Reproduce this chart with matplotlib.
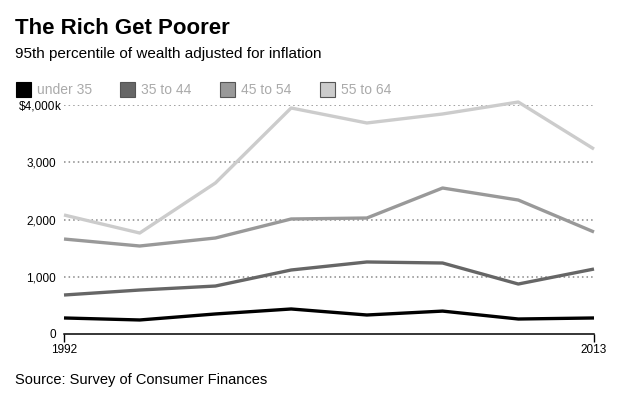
import matplotlib.pyplot as plt
from matplotlib.patches import Rectangle

plt.rcParams['font.family'] = ['Liberation Sans', 'DejaVu Sans']

years = [1992, 1995, 1998, 2001, 2004, 2007, 2010, 2013]
under_35 = [280, 245, 350, 437, 332, 400, 262, 280]
age_35_44 = [681, 768, 838, 1118, 1258, 1240, 873, 1135]
age_45_54 = [1659, 1537, 1677, 2009, 2026, 2550, 2340, 1782]
age_55_64 = [2079, 1764, 2638, 3948, 3686, 3843, 4052, 3231]

labels = ['under 35', '35 to 44', '45 to 54', '55 to 64']
colors = ['#000000', '#666666', '#999999', '#cccccc']
series = [under_35, age_35_44, age_45_54, age_55_64]

yticks = [0, 1000, 2000, 3000, 4000]
ytick_labels = ['0', '1,000', '2,000', '3,000', '$4,000']

fig = plt.figure(figsize=(6.3, 4.0), dpi=100)
ax = fig.add_axes([64 / 630, 1 - 334 / 400, 530 / 630, 229 / 400])

for y in yticks[1:]:
    ax.axhline(y, color='#888888', lw=1.1, ls=(0, (1, 2)), zorder=1)

# draw lightest on bottom so darker lines sit on top
for vals, c in reversed(list(zip(series, colors))):
    ax.plot(years, vals, color=c, lw=2.4, zorder=3, clip_on=False,
            solid_capstyle='butt')

ax.set_xlim(1992, 2013)
ax.set_ylim(0, 4000)
ax.set_yticks(yticks)
ax.set_yticklabels(ytick_labels)
ax.set_xticks([1992, 2013])
ax.set_xticklabels(['1992', '2013'])
ax.tick_params(axis='y', length=0, labelsize=8.5, pad=6)
ax.tick_params(axis='x', length=6, width=1, labelsize=8.5, pad=1)
for s in ['top', 'right', 'left']:
    ax.spines[s].set_visible(False)
ax.spines['bottom'].set_linewidth(1.1)

# unit suffix hangs past the right-aligned numbers
ax.annotate('k', xy=(0, yticks[-1]), xycoords=ax.get_yaxis_transform(),
            xytext=(-6.8, 0), textcoords='offset points', ha='left',
            va='center_baseline', fontsize=8.5)

# title block
fig.text(15 / 630, 1 - 28 / 400, 'The Rich Get Poorer', fontsize=16,
         fontweight='bold', va='center', ha='left')
fig.text(15 / 630, 1 - 54 / 400, '95th percentile of wealth adjusted for inflation',
         fontsize=11, va='center', ha='left')

# legend row
leg_x = [16, 120, 220, 320]
for x, lab, c in zip(leg_x, labels, colors):
    fig.patches.append(Rectangle((x / 630, 1 - 97 / 400), 15 / 630, 15 / 400,
                                 transform=fig.transFigure, facecolor=c,
                                 edgecolor='#555555' if c != '#000000' else c,
                                 lw=0.8))
    fig.text((x + 21) / 630, 1 - 89.5 / 400, lab, fontsize=10, color='#aaaaaa',
             va='center', ha='left')

fig.text(15 / 630, 1 - 380 / 400, 'Source: Survey of Consumer Finances',
         fontsize=10.5, va='center', ha='left')

fig.savefig('out.png', dpi=100)
